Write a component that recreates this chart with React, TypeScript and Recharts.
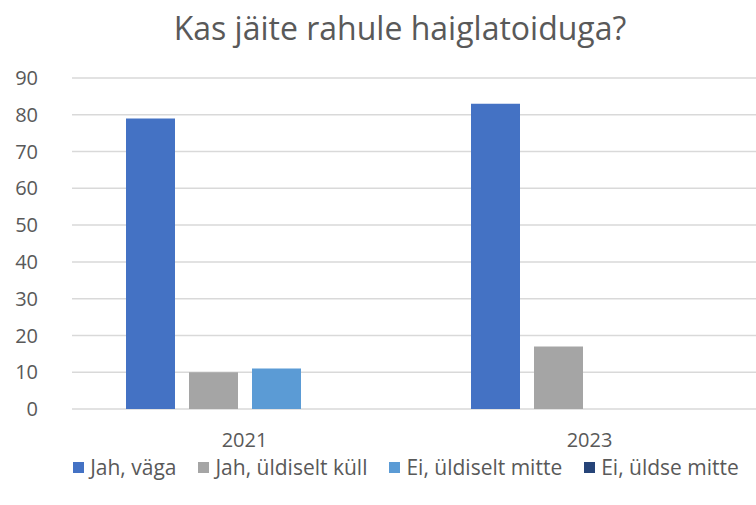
import { BarChart, Bar, XAxis, YAxis, CartesianGrid, Legend } from "recharts"

const years = ["2021", "2023"]
const jahVaga = [79, 83]
const jahUldiseltKull = [10, 17]
const eiUldiseltMitte = [11, 0]
const eiUldseMitte = [0, 0]
const yTicks = [0, 10, 20, 30, 40, 50, 60, 70, 80, 90]

const seriesNames = ["Jah, väga", "Jah, üldiselt küll", "Ei, üldiselt mitte", "Ei, üldse mitte"]
const seriesColors = ["#4472C4", "#A5A5A5", "#5B9BD5", "#264478"]

const data = years.map((year, i) => ({
  year,
  s0: jahVaga[i],
  s1: jahUldiseltKull[i],
  s2: eiUldiseltMitte[i],
  s3: eiUldseMitte[i],
}))

const FONT = "'Open Sans', sans-serif"
const TEXT = "#595959"

const LegendContent = () => (
  <div style={{ display: "flex", justifyContent: "center", alignItems: "center", fontFamily: FONT, fontSize: 21, color: TEXT, marginLeft: 50 }}>
    {seriesNames.map((name, i) => (
      <div key={name} style={{ display: "flex", alignItems: "center", marginRight: i < 3 ? 22 : 0 }}>
        <span style={{ width: 11, height: 11, background: seriesColors[i], marginRight: 6, display: "inline-block" }} />
        <span>{name}</span>
      </div>
    ))}
  </div>
)

export default function App() {
  return (
    <div style={{ position: "absolute", left: 0, top: 0, width: 756, height: 505, background: "#fff" }}>
      <div
        style={{
          position: "absolute",
          top: 6,
          left: 0,
          width: 800,
          textAlign: "center",
          fontFamily: FONT,
          fontSize: 32,
          color: TEXT,
        }}
      >
        Kas jäite rahule haiglatoiduga?
      </div>
      <BarChart width={756} height={505} data={data} margin={{ top: 78, right: -6, left: 0, bottom: 26 }} barSize={49} barGap={14}>
        <CartesianGrid stroke="#D9D9D9" strokeWidth={1.5} vertical={false} />
        <XAxis
          dataKey="year"
          axisLine={false}
          tickLine={false}
          height={44}
          tickSize={0}
          tickMargin={24}
          tick={{ fill: TEXT, fontSize: 20, fontFamily: FONT }}
        />
        <YAxis
          domain={[0, 90]}
          ticks={yTicks}
          width={72}
          axisLine={false}
          tickLine={false}
          tickSize={0}
          tickMargin={34}
          tick={{ fill: TEXT, fontSize: 20, fontFamily: FONT }}
        />
        <Legend verticalAlign="bottom" height={26} content={LegendContent} />
        {seriesNames.map((name, i) => (
          <Bar key={name} dataKey={`s${i}`} name={name} fill={seriesColors[i]} isAnimationActive={false} />
        ))}
      </BarChart>
    </div>
  )
}
